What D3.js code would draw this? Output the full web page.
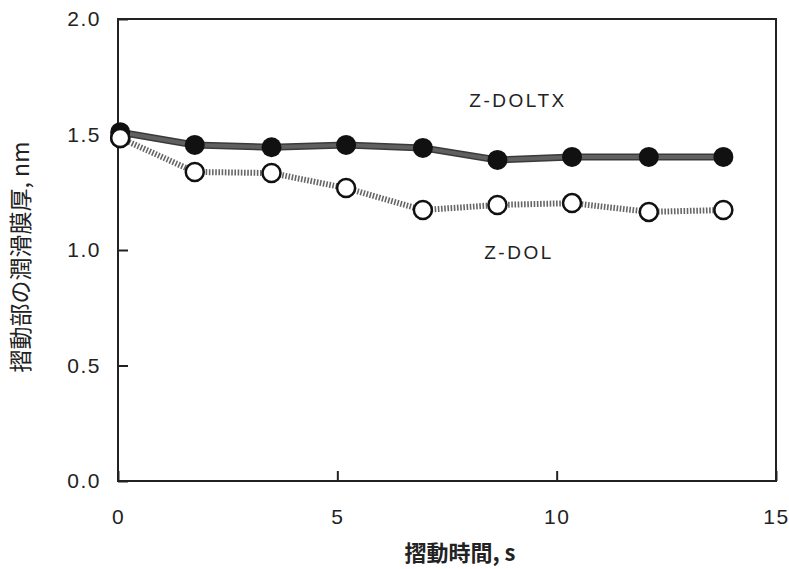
<!DOCTYPE html>
<html>
<head>
<meta charset="utf-8">
<script src="https://cdn.jsdelivr.net/npm/d3@7"></script>
<style>
  body { margin: 0; background: #fff; }
  svg text { font-family: "Liberation Sans", Arial, sans-serif; fill: #222; }
</style>
</head>
<body>
<svg id="chart" width="789" height="569"></svg>
<script>
// sliding time (s)
const times = [0.05, 1.75, 3.5, 5.2, 6.95, 8.65, 10.35, 12.1, 13.8];
// lubricant film thickness (nm)
const doltx = [1.51, 1.455, 1.445, 1.455, 1.442, 1.39, 1.403, 1.403, 1.403];
const dol = [1.485, 1.338, 1.333, 1.268, 1.173, 1.195, 1.203, 1.165, 1.173];
const xTicks = [0, 5, 10, 15];
const yTicks = [0.0, 0.5, 1.0, 1.5, 2.0];

const svg = d3.select("#chart");
const margin = { top: 19, right: 13, bottom: 88, left: 118 };
const width = 789 - margin.left - margin.right;
const height = 569 - margin.top - margin.bottom;

const g = svg.append("g")
    .attr("transform", `translate(${margin.left},${margin.top})`);

const x = d3.scaleLinear().domain([0, 15]).range([0, width]);
const y = d3.scaleLinear().domain([0, 2]).range([height, 0]);

// frame
g.append("rect")
    .attr("width", width)
    .attr("height", height)
    .attr("fill", "none")
    .attr("stroke", "#222")
    .attr("stroke-width", 2);

// axes with inward ticks
const xAxis = g.append("g")
    .attr("transform", `translate(0,${height})`)
    .call(d3.axisBottom(x).tickValues(xTicks).tickSize(-10).tickPadding(28).tickFormat(d3.format("d")));
const yAxis = g.append("g")
    .call(d3.axisLeft(y).tickValues(yTicks).tickSize(-10).tickPadding(17).tickFormat(d3.format(".1f")));

[xAxis, yAxis].forEach(ax => {
    ax.select(".domain").remove();
    ax.selectAll(".tick line").attr("stroke", "#222").attr("stroke-width", 2);
    ax.selectAll(".tick text")
        .attr("font-size", 21)
        .attr("letter-spacing", 1.5)
        .attr("font-family", "Liberation Sans, Arial, sans-serif")
        .attr("fill", "#222");
});

const line = d3.line()
    .x((d, i) => x(times[i]))
    .y(d => y(d));

// Z-DOL: hatched line
g.append("path")
    .datum(dol)
    .attr("d", line)
    .attr("fill", "none")
    .attr("stroke", "#666")
    .attr("stroke-width", 6)
    .attr("stroke-dasharray", "1.6,1.6");

// Z-DOLTX: thick gray line
g.append("path")
    .datum(doltx)
    .attr("d", line)
    .attr("fill", "none")
    .attr("stroke", "#3a3a3a")
    .attr("stroke-width", 7);
g.append("path")
    .datum(doltx)
    .attr("d", line)
    .attr("fill", "none")
    .attr("stroke", "#606060")
    .attr("stroke-width", 4);

// markers
g.selectAll(".open")
    .data(dol)
    .enter().append("circle")
    .attr("class", "open")
    .attr("cx", (d, i) => x(times[i]))
    .attr("cy", d => y(d))
    .attr("r", 9)
    .attr("fill", "#fff")
    .attr("stroke", "#111")
    .attr("stroke-width", 2.5);

g.selectAll(".filled")
    .data(doltx)
    .enter().append("circle")
    .attr("class", "filled")
    .attr("cx", (d, i) => x(times[i]))
    .attr("cy", d => y(d))
    .attr("r", 10)
    .attr("fill", "#111");

// redraw first open marker on top
g.append("circle")
    .attr("cx", x(times[0]))
    .attr("cy", y(dol[0]))
    .attr("r", 9)
    .attr("fill", "#fff")
    .attr("stroke", "#111")
    .attr("stroke-width", 2.5);

// series labels
svg.append("text")
    .attr("x", 518)
    .attr("y", 107)
    .attr("text-anchor", "middle")
    .attr("font-size", 19)
    .attr("letter-spacing", 2.5)
    .text("Z-DOLTX");
svg.append("text")
    .attr("x", 519)
    .attr("y", 259)
    .attr("text-anchor", "middle")
    .attr("font-size", 19)
    .attr("letter-spacing", 2.5)
    .text("Z-DOL");

// axis titles
svg.append("text")
    .attr("x", 460)
    .attr("y", 561)
    .attr("text-anchor", "middle")
    .attr("font-size", 22)
    .attr("font-weight", "bold")
    .style("font-family", "'Noto Sans CJK JP', sans-serif")
    .text("摺動時間, s");
svg.append("text")
    .attr("transform", "translate(29,257) rotate(-90)")
    .attr("text-anchor", "middle")
    .attr("font-size", 23)
    .style("font-family", "'Noto Sans CJK JP', sans-serif")
    .text("摺動部の潤滑膜厚, nm");
</script>
</body>
</html>
